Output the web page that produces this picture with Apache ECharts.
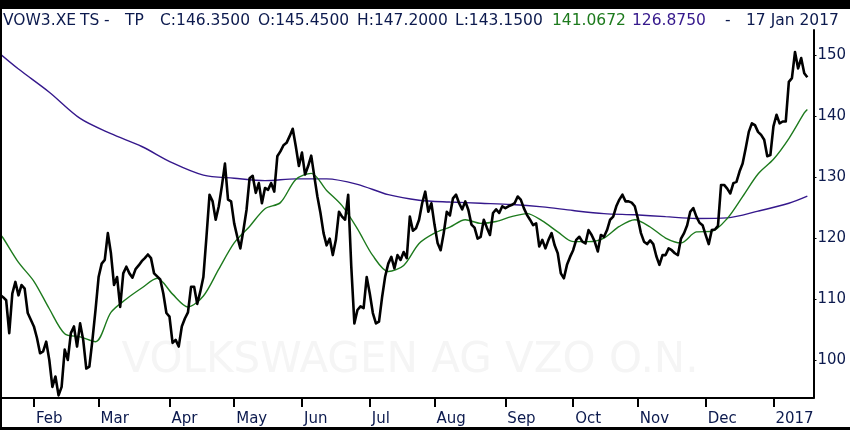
<!DOCTYPE html>
<html><head><meta charset="utf-8">
<script src="https://cdn.jsdelivr.net/npm/echarts@6/dist/echarts.min.js"></script>
<style>html,body{margin:0;padding:0;background:#fff}#c{width:850px;height:430px}</style>
</head><body><div id="c"></div>
<script>
// ---- data ----
const startDate = '2016-01-15';
const endDate = '2017-01-19';
const monthNames = ['Jan','Feb','Mar','Apr','May','Jun','Jul','Aug','Sep','Oct','Nov','Dec'];
const yTicks = [100, 110, 120, 130, 140, 150];

// daily close, one value per trading day from 2016-01-15 to 2017-01-17
const close = [
110.7,110.3,109.8,104.4,110.9,112.8,110.6,112.3,111.7,107.7,
106.6,105.5,103.6,101.1,101.4,103.0,100.0,95.6,97.3,94.2,
95.6,101.7,100.0,104.4,105.5,102.2,106.0,103.3,98.6,98.9,
103.3,108.2,113.6,115.8,116.4,120.8,117.5,112.3,113.6,108.7,
114.2,115.3,114.2,113.5,114.9,115.5,116.2,116.7,117.3,116.7,
114.2,113.7,113.2,110.9,107.7,107.1,102.8,103.3,102.2,105.5,
106.8,107.8,112.0,112.0,109.2,111.2,113.6,120.2,127.1,126.0,
123.0,125.2,128.5,132.2,126.3,126.0,122.4,120.2,118.3,121.3,
124.6,129.8,130.2,127.4,129.0,125.7,128.2,127.9,129.0,127.6,
133.4,134.2,135.2,135.6,136.7,137.9,135.0,131.8,134.0,130.4,
131.8,133.5,130.1,126.8,124.1,120.8,118.8,119.9,117.2,119.7,
124.3,123.5,123.0,127.1,115.3,106.0,108.2,108.8,108.5,113.6,
110.9,107.7,106.0,106.3,110.3,113.7,115.8,116.9,115.0,117.2,
116.4,117.7,116.7,123.5,121.2,121.6,123.0,125.7,127.6,124.3,
125.7,122.2,119.2,118.0,120.8,124.3,123.7,126.5,127.1,125.7,
124.7,126.0,124.6,122.2,121.7,119.9,120.2,123.0,121.7,120.5,
124.1,124.7,124.1,125.2,124.9,125.2,125.4,125.7,126.8,126.3,
124.9,123.8,123.0,122.1,122.4,118.6,119.7,118.3,119.7,120.8,
118.8,117.5,114.2,113.4,115.6,116.9,118.0,119.7,120.2,119.4,
119.1,121.3,120.5,119.4,117.8,120.5,120.2,121.3,123.0,123.5,
125.2,126.3,127.1,126.0,126.0,125.8,125.2,123.2,120.8,119.4,
119.0,119.6,119.0,117.0,115.6,117.2,117.2,118.3,118.0,117.5,
117.2,119.9,120.8,122.1,124.3,124.9,123.5,122.5,122.1,120.5,
119.0,121.3,121.4,122.0,128.7,128.7,128.1,127.3,129.0,129.2,
130.9,132.2,134.7,137.4,138.8,138.5,137.4,136.9,136.1,133.4,
133.6,138.3,140.2,138.8,139.1,139.1,145.6,146.2,150.5,147.8,
149.5,147.0,146.35
];

// short moving average (green)
const maShort = [
['2016-01-15',120.6],['2016-01-18',120.0],['2016-01-25',116.0],['2016-02-01',112.9],
['2016-02-08',108.4],['2016-02-15',104.3],['2016-02-22',103.8],['2016-02-29',103.0],
['2016-03-07',107.8],['2016-03-14',110.0],['2016-03-21',111.8],['2016-03-28',113.4],
['2016-04-04',110.8],['2016-04-11',108.7],['2016-04-18',110.5],['2016-04-25',114.9],
['2016-05-02',119.2],['2016-05-09',121.9],['2016-05-16',124.8],['2016-05-23',125.8],
['2016-05-30',129.6],['2016-06-06',130.6],['2016-06-13',127.8],['2016-06-20',125.3],
['2016-06-27',121.5],['2016-07-04',117.1],['2016-07-11',114.5],['2016-07-18',115.5],
['2016-07-25',119.1],['2016-08-01',120.8],['2016-08-08',121.8],['2016-08-15',123.0],
['2016-08-22',122.4],['2016-08-29',122.7],['2016-09-05',123.5],['2016-09-12',124.0],
['2016-09-19',122.8],['2016-09-26',121.0],['2016-10-03',119.4],['2016-10-10',119.4],
['2016-10-17',120.0],['2016-10-24',121.9],['2016-10-31',123.0],['2016-11-07',121.8],
['2016-11-14',120.0],['2016-11-21',119.2],['2016-11-28',121.0],['2016-12-05',121.1],
['2016-12-12',123.2],['2016-12-19',126.8],['2016-12-26',130.5],['2017-01-02',132.9],
['2017-01-09',136.3],['2017-01-16',140.5],['2017-01-17',141.0672]
];

// long moving average (purple)
const maLong = [
['2016-01-15',150.2],['2016-01-25',147.7],['2016-02-08',143.9],['2016-02-22',139.6],
['2016-03-07',137.1],['2016-03-21',135.0],['2016-04-04',132.3],['2016-04-18',130.3],
['2016-05-02',129.8],['2016-05-16',129.4],['2016-05-30',129.7],['2016-06-13',129.7],
['2016-06-27',128.8],['2016-07-11',127.1],['2016-07-25',126.2],['2016-08-08',125.9],
['2016-08-22',125.7],['2016-09-05',125.5],['2016-09-19',125.1],['2016-10-03',124.5],
['2016-10-17',124.0],['2016-10-31',123.8],['2016-11-14',123.5],['2016-11-28',123.2],
['2016-12-12',123.3],['2016-12-26',124.4],['2017-01-09',125.7],['2017-01-17',126.875]
];

const headerParts = [
  ['VOW3.XE', 'navy', 3],
  ['TS', 'navy', 80],
  ['-', 'navy', 104],
  ['TP', 'navy', 125],
  ['C:146.3500', 'navy', 160],
  ['O:145.4500', 'navy', 258],
  ['H:147.2000', 'navy', 357],
  ['L:143.1500', 'navy', 455],
  ['141.0672', 'green', 552],
  ['126.8750', 'purple', 632],
  ['-', 'navy', 725],
  ['17 Jan 2017', 'navy', 746]
];
const watermark = 'VOLKSWAGEN AG VZO O.N.';

// ---- build ----
const colors = { navy: '#0c1a4e', green: '#1d7a1d', purple: '#35188c' };
const dates = [];
(function () {
  const s = new Date(startDate + 'T00:00:00Z'), e = new Date(endDate + 'T00:00:00Z');
  for (let d = new Date(s); d <= e; d.setUTCDate(d.getUTCDate() + 1)) {
    const wd = d.getUTCDay();
    if (wd === 0 || wd === 6) continue;
    dates.push(d.toISOString().slice(0, 10));
  }
})();
function monthStart(i) {
  return i > 0 && dates[i].slice(5, 7) !== dates[i - 1].slice(5, 7);
}
const chart = echarts.init(document.getElementById('c'), null, { renderer: 'canvas' });
const font = '"DejaVu Sans", Verdana, sans-serif';
const graphics = [
  { type: 'text', z: 0, style: { text: watermark, x: 410, y: 361, align: 'center', verticalAlign: 'middle', fill: '#f5f5f5', font: '42px ' + font } },
  { type: 'rect', z: 100, shape: { x: 0, y: 0, width: 850, height: 9 }, style: { fill: '#000' } },
  { type: 'rect', z: 100, shape: { x: 0, y: 0, width: 2, height: 430 }, style: { fill: '#000' } },
  { type: 'rect', z: 100, shape: { x: 0, y: 427, width: 850, height: 3 }, style: { fill: '#000' } }
];
headerParts.forEach(p => {
  graphics.push({ type: 'text', z: 101, style: { text: p[0], x: p[2], y: 21, align: 'left', verticalAlign: 'middle', fill: colors[p[1]], font: '15.5px ' + font } });
});

chart.setOption({
  animation: false,
  backgroundColor: '#fff',
  grid: { left: 0, right: 36.5, top: 30, bottom: 32, containLabel: false },
  xAxis: {
    type: 'category', data: dates, boundaryGap: false,
    axisLine: { lineStyle: { color: '#000', width: 2 } },
    axisTick: { interval: (i) => monthStart(i), length: 9, inside: false, lineStyle: { color: '#000', width: 2 } },
    axisLabel: {
      interval: (i) => monthStart(i),
      align: 'left', margin: 14, padding: [0, 0, 0, 2],
      color: colors.navy, fontFamily: font, fontSize: 15,
      formatter: (v) => { const m = +v.slice(5, 7); return m === 1 ? v.slice(0, 4) : monthNames[m - 1]; }
    },
    splitLine: { show: false }
  },
  yAxis: {
    type: 'value', position: 'right', min: 93.77, max: 154.1,
    axisLine: { show: true, lineStyle: { color: '#000', width: 2 } },
    axisTick: { show: true, customValues: yTicks, length: 3, lineStyle: { color: '#000', width: 1 } },
    axisLabel: { customValues: yTicks, margin: 4, color: colors.navy, fontFamily: font, fontSize: 15 },
    splitLine: { show: false }
  },
  graphic: graphics,
  series: [
    { type: 'line', name: 'long', data: maLong, smooth: 0.3, symbol: 'none', z: 3, lineStyle: { color: colors.purple, width: 1.4 } },
    { type: 'line', name: 'short', data: maShort, smooth: 0.3, symbol: 'none', z: 4, lineStyle: { color: colors.green, width: 1.4 } },
    { type: 'line', name: 'close', data: close, symbol: 'none', z: 5, lineStyle: { color: '#000', width: 2.6, join: 'round' } }
  ]
});
</script></body></html>
